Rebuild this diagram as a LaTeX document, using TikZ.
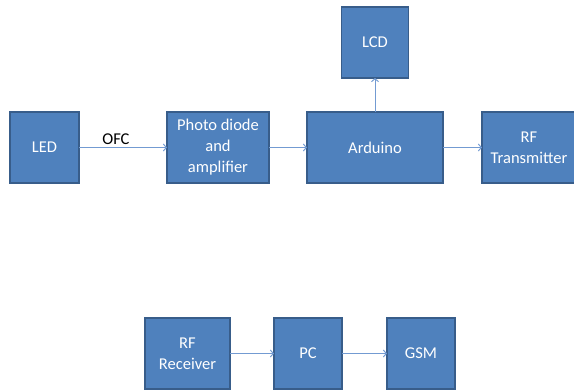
\documentclass[tikz,border=0pt]{standalone}
\usepackage{fontspec}
\setmainfont{Carlito}
\usepackage{tikz}
\usetikzlibrary{positioning,arrows.meta}
\definecolor{boxblue}{RGB}{79,129,189}
\definecolor{boxedge}{RGB}{56,93,138}
\definecolor{arrblue}{RGB}{115,155,210}

\begin{document}
\begin{tikzpicture}[x=1pt,y=-1pt,
        block/.style={rectangle, draw=boxedge, fill=boxblue, line width=1.2pt,
                      text=white, font=\fontsize{16.5}{21}\selectfont, align=center,
                      minimum height=71pt, inner sep=2pt, outer sep=0pt},
        arr/.style={-{Straight Barb[length=3pt,width=7pt]}, arrblue, line width=1pt}
      ]
        \useasboundingbox (0,0) rectangle (574,389);
        \clip (0,0) rectangle (574,389);
        % transmitter side
        \node[block, minimum width=69pt] (led) at (44.5,147.5) {LED};
        \node[block, minimum width=102pt, right=88pt of led] (photo)
              {Photo diode\\and\\amplifier};
        \node[block, minimum width=136pt, right=38pt of photo] (arduino) {Arduino};
        \node[block, minimum width=67pt, above=34pt of arduino] (lcd) {LCD};
        \node[block, minimum width=94pt, right=39pt of arduino] (rftx)
              {RF\\Transmitter};
        % receiver side
        \node[block, minimum width=85pt] (rfrx) at (187.5,353.5) {RF\\Receiver};
        \node[block, minimum width=68pt, right=44pt of rfrx] (pc) {PC};
        \node[block, minimum width=68pt, right=45pt of pc] (gsm) {GSM};
        \draw[arr] (led) -- node[pos=0.42, above, inner sep=2pt, text=black,
              font=\fontsize{16.5}{20}\selectfont] {OFC} (photo);
        \draw[arr] (photo) -- (arduino); \draw[arr] (arduino) -- (rftx);
        \draw[arr] (arduino) -- (lcd);
        \draw[arr] (rfrx) -- (pc); \draw[arr] (pc) -- (gsm);
      \end{tikzpicture}
\end{document}
